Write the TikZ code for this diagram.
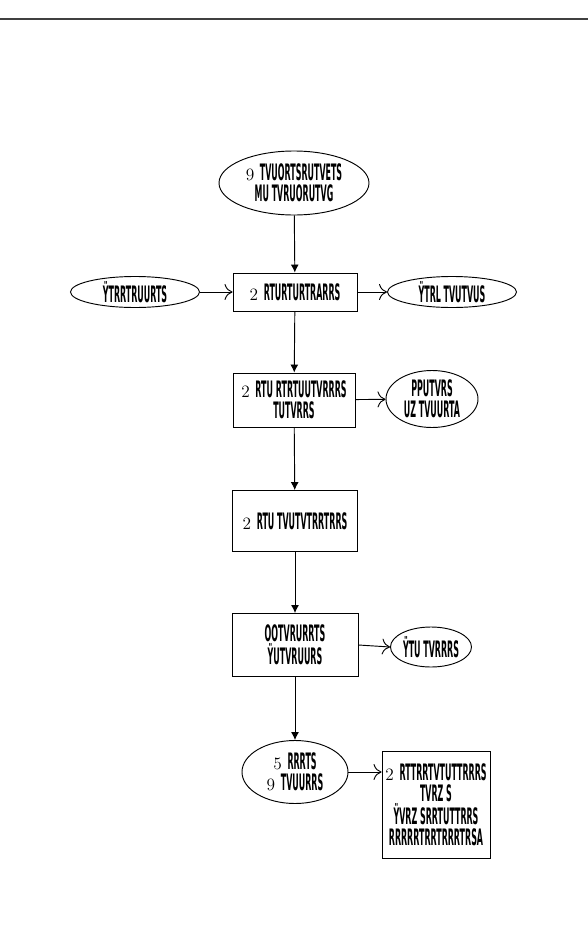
\documentclass[tikz,border=0pt]{standalone}
\usepackage{fontspec}
\newfontfamily\glfont{DejaVu Sans}
\usetikzlibrary{shapes.geometric,arrows.meta}
\def\u{0.75pt}
\newcommand{\gl}[1]{{\fontsize{17}{16}\selectfont\glfont\bfseries\scalebox{0.35}[1]{#1}}}
\newcommand{\dg}[1]{{\fontsize{13}{16}\selectfont #1}}
\begin{document}
\begin{tikzpicture}[x=0.75pt,y=-0.75pt,
  every node/.style={align=center,inner sep=0pt,font=\fontsize{13}{16}\selectfont},
  ell/.style={draw,ellipse,line width=0.7pt},
  rbox/.style={draw,rectangle,line width=0.7pt},
  vline/.style={line width=0.7pt,-{Latex[length=6pt,width=6pt]}},
  hline/.style={line width=0.7pt,-{To[length=6pt,width=12pt]}}]
\useasboundingbox (0,0) rectangle (588,928);
\draw[line width=1.6pt,black!75] (0,19) -- (588,19);

\node[ell,minimum width=150*\u,minimum height=64*\u] (top) at (294,183)
  {\dg{9}\ \gl{TVUORTSRUTVETS}\\\gl{MU TVRUORUTVG}};
\node[rbox,minimum width=124*\u,minimum height=38*\u] (b2) at (295,292)
  {\dg{2}\ \gl{RTURTURTRARRS}};
\node[ell,minimum width=129*\u,minimum height=31*\u] (le) at (135,292)
  {\gl{ŸTRRTRUURTS}};
\node[ell,minimum width=129*\u,minimum height=31*\u] (re) at (452,292)
  {\gl{ŸTRL TVUTVUS}};
\node[rbox,minimum width=122*\u,minimum height=54*\u] (b3) at (294,400)
  {\dg{2}\ \gl{RTU RTRTUUTVRRRS}\\\gl{TUTVRRS}};
\node[ell,minimum width=92*\u,minimum height=57*\u] (e3) at (432,399)
  {\gl{PPUTVRS}\\\gl{UZ TVUURTA}};
\node[rbox,minimum width=125*\u,minimum height=61*\u] (b4) at (295,521)
  {\dg{2}\ \gl{RTU TVUTVTRRTRRS}};
\node[rbox,minimum width=126*\u,minimum height=63*\u] (b5) at (295,645)
  {\gl{OOTVRURRTS}\\\gl{ŸUTVRUURS}};
\node[ell,minimum width=81*\u,minimum height=40*\u] (e5) at (431,647)
  {\gl{ŸTU TVRRRS}};
\node[ell,minimum width=106*\u,minimum height=63*\u] (e6) at (295,772)
  {\dg{5}\ \gl{RRRTS}\\\dg{9}\ \gl{TVUURRS}};
\node[rbox,minimum width=108*\u,minimum height=107*\u] (b6) at (436,805)
  {\dg{2}\ \gl{RTTRRTVTUTTRRRS}\\\gl{TVRZ S}\\\gl{ŸVRZ SRRTUTTRRS}\\\gl{RRRRRTRRTRRRTRSA}};

\draw[vline] (top) -- (b2);
\draw[vline] (b2) -- (b3);
\draw[vline] (b3) -- (b4);
\draw[vline] (b4) -- (b5);
\draw[vline] (b5) -- (e6);
\draw[hline] (le) -- (b2);
\draw[hline] (b2) -- (re);
\draw[hline] (b3) -- (e3);
\draw[hline] (b5.east) -- (e5.west);
\draw[hline] (e6.east) -- (e6.east -| b6.west);
\end{tikzpicture}
\end{document}
